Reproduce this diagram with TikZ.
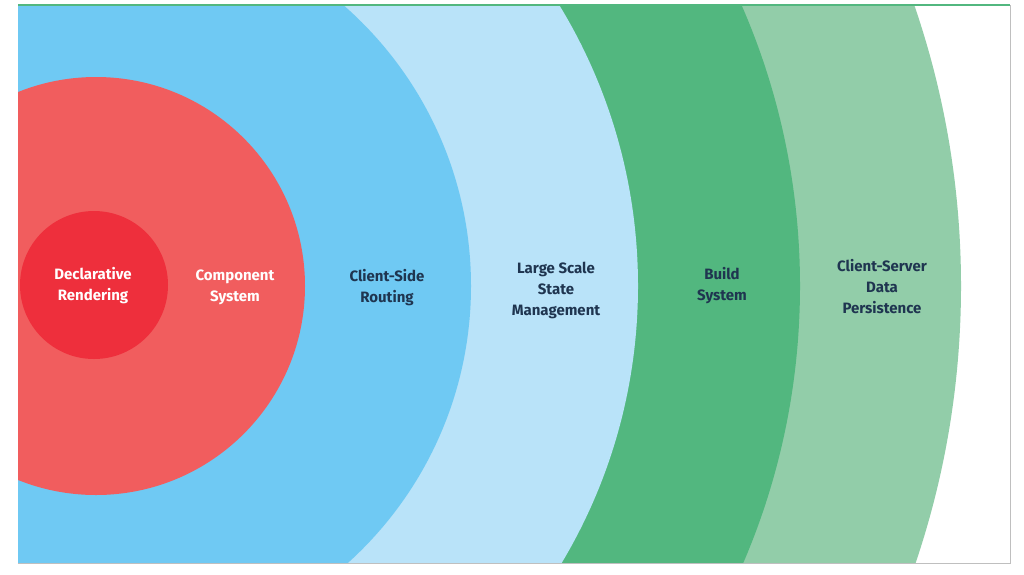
\documentclass[tikz,border=0pt]{standalone}
\usepackage{fontspec}
\setmainfont{Fira Sans}
\begin{document}
\begin{tikzpicture}[x=1pt,y=-1pt,
  lab/.style={align=center,font=\fontsize{15}{21}\selectfont\bfseries,text=navy},
  wlab/.style={lab,text=white}]
\definecolor{navy}{HTML}{1F3550}
\definecolor{rA}{HTML}{EE2F3C}
\definecolor{rB}{HTML}{F15D5E}
\definecolor{bA}{HTML}{6FC9F3}
\definecolor{bB}{HTML}{B9E3F9}
\definecolor{gA}{HTML}{52B77F}
\definecolor{gB}{HTML}{92CDA9}
\useasboundingbox (0,0) rectangle (1024,574);
\fill[white] (0,0) rectangle (1024,574);
\begin{scope}
\clip (18,5) rectangle (1010,563);
\fill[gB] (98,286) circle[radius=863];
\fill[gA] (98,286) circle[radius=702];
\fill[bB] (98,286) circle[radius=540];
\fill[bA] (98,286) circle[radius=373];
\fill[rB] (96,286) circle[radius=209];
\fill[rA] (94,285) circle[radius=74];
\end{scope}
\draw[gA,line width=1.5] (18,5) -- (1010,5);
\draw[black!25] (1010,5) -- (1010,563) -- (18,563);
\node[wlab] (n1) at (93,286) {Declarative\\Rendering};
\node[wlab] (n2) at (235,287) {Component\\System};
\node[lab] (n3) at (387,288) {Client-Side\\Routing};
\node[lab] (n4) at (556,290) {Large Scale\\State\\Management};
\node[lab] (n5) at (722,286) {Build\\System};
\node[lab] (n6) at (882,287) {Client-Server\\Data\\Persistence};
\end{tikzpicture}
\end{document}
